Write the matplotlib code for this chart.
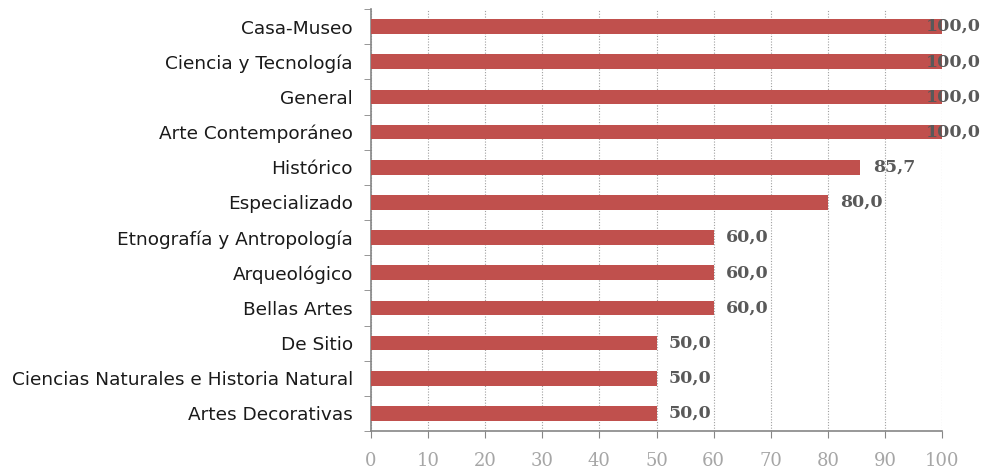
import matplotlib.pyplot as plt

categories = ['Casa-Museo', 'Ciencia y Tecnología', 'General', 'Arte Contemporáneo',
              'Histórico', 'Especializado', 'Etnografía y Antropología', 'Arqueológico',
              'Bellas Artes', 'De Sitio', 'Ciencias Naturales e Historia Natural',
              'Artes Decorativas']
values = [100.0, 100.0, 100.0, 100.0, 85.7, 80.0, 60.0, 60.0, 60.0, 50.0, 50.0, 50.0]
xticks = [0, 10, 20, 30, 40, 50, 60, 70, 80, 90, 100]

fig = plt.figure(figsize=(9.86, 4.71), dpi=100)
ax = fig.add_axes([371 / 986, 1 - 431 / 471, (942 - 371) / 986, (431 - 9) / 471])

ypos = list(range(len(categories)))[::-1]
ax.barh(ypos, values, height=0.42, color='#C0504D', zorder=3)

# etiquetas de valor (las de 100 quedan pegadas al borde derecho)
for y, v in zip(ypos, values):
    txt = f'{v:.1f}'.replace('.', ',')
    if v + 2.2 + 11 > 106.8:
        ax.text(106.8, y, txt, ha='right', va='center', fontsize=12.5, fontweight='bold',
                family='DejaVu Serif', color='#595959', zorder=4, clip_on=False)
    else:
        ax.text(v + 2.2, y, txt, ha='left', va='center', fontsize=12.5, fontweight='bold',
                family='DejaVu Serif', color='#595959', zorder=4)

ax.set_xlim(0, 100)
ax.set_ylim(-0.5, len(categories) - 0.5)
ax.set_xticks(xticks)
ax.set_xticklabels([str(t) for t in xticks], family='DejaVu Serif', fontsize=13,
                   color='#A6A6A6')
ax.set_yticks(ypos)
ax.set_yticklabels(categories, family='DejaVu Sans', fontsize=13.3, color='#1a1a1a')
ax.set_yticks([i - 0.5 for i in range(len(categories) + 1)], minor=True)
ax.tick_params(axis='y', which='major', length=0, pad=13)
ax.tick_params(axis='y', which='minor', length=5, color='#868686')
ax.tick_params(axis='x', length=5, color='#868686', pad=10)

ax.grid(axis='x', linestyle=(0, (1, 1.5)), color='#A0A0A0', linewidth=0.8, zorder=0)
for s in ['top', 'right']:
    ax.spines[s].set_visible(False)
for s in ['left', 'bottom']:
    ax.spines[s].set_color('#868686')
    ax.spines[s].set_linewidth(1.2)

fig.savefig('out.png', dpi=100)
